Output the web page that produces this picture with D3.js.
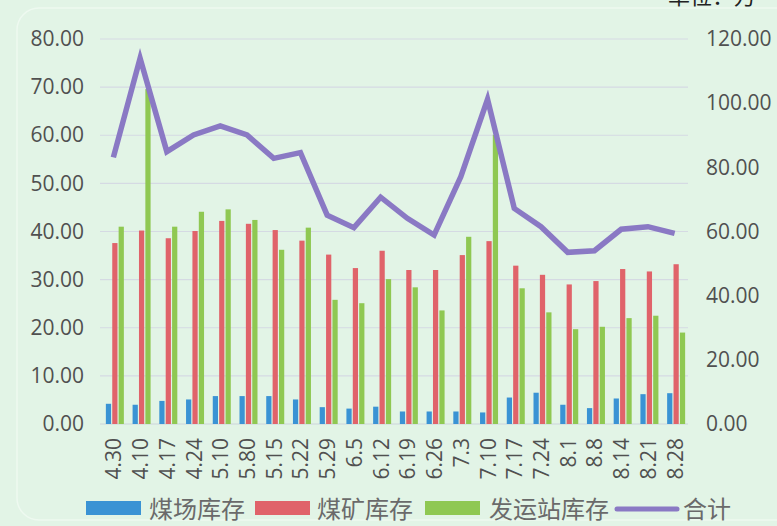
<!DOCTYPE html>
<html><head><meta charset="utf-8">
<script src="https://cdn.jsdelivr.net/npm/d3@7"></script>
<style>
html,body{margin:0;padding:0;background:#e2f4e6;}
svg{display:block;}
text{font-family:"Open Sans","Noto Sans CJK SC",sans-serif;}
</style></head>
<body>
<svg id="chart" width="777" height="526"></svg>
<script>
const categories = ["4.30","4.10","4.17","4.24","5.10","5.80","5.15","5.22","5.29","6.5","6.12","6.19","6.26","7.3","7.10","7.17","7.24","8.1","8.8","8.14","8.21","8.28"];
const coalYard   = [4.2,4.0,4.8,5.1,5.8,5.8,5.8,5.1,3.5,3.2,3.6,2.6,2.6,2.6,2.4,5.5,6.5,4.0,3.3,5.3,6.2,6.4];
const coalMine   = [37.6,40.2,38.6,40.1,42.2,41.6,40.3,38.1,35.2,32.4,36.0,32.0,32.0,35.1,38.0,32.9,31.0,29.0,29.7,32.2,31.7,33.2];
const station    = [41.0,69.6,41.0,44.1,44.6,42.4,36.2,40.8,25.8,25.1,30.1,28.4,23.6,38.9,60.1,28.2,23.2,19.7,20.2,22.0,22.5,19.0];
const total      = [83.1,114.0,84.9,90.1,92.9,90.1,82.8,84.6,65.1,61.2,70.7,64.1,58.9,77.1,101.2,67.2,61.5,53.5,54.0,60.7,61.5,59.4];
const seriesNames = ["煤场库存","煤矿库存","发运站库存","合计"];
const leftTicks  = [0,10,20,30,40,50,60,70,80];
const rightTicks = [0,20,40,60,80,100,120];
const unitLabel = "单位：万";

const colors = ["#3a93d4","#e0636a","#8fc852","#8a79c4"];

const svg = d3.select("#chart");
// rounded panel
svg.append("rect").attr("x",17).attr("y",8).attr("width",800).attr("height",512)
  .attr("rx",22).attr("fill","#e2f4e6").attr("stroke","#eef9f0").attr("stroke-width",1.5);

const L = 100, R = 688, T = 39, B = 424;
const x = d3.scaleBand().domain(categories).range([L,R]);
const yL = d3.scaleLinear().domain([0,80]).range([B,T]);
const yR = d3.scaleLinear().domain([0,120]).range([B,T]);
const inner = d3.scaleBand().domain([0,1,2]).range([0,18]).paddingInner(0.18);
const cx = c => x(c) + x.bandwidth()/2;

// gridlines
svg.append("g").selectAll("line").data(leftTicks).join("line")
  .attr("x1",L).attr("x2",R).attr("y1",d=>yL(d)).attr("y2",d=>yL(d))
  .attr("stroke",d=>d===0?"#cbd3da":"#d5dae3").attr("stroke-width",1.2);

// left axis labels
const axL = svg.append("g").attr("transform",`translate(${L-16},0)`)
  .call(d3.axisLeft(yL).tickValues(leftTicks).tickFormat(d3.format(".2f")).tickSize(0).tickPadding(0));
axL.select(".domain").remove();
axL.selectAll("text").attr("font-size",21).attr("fill","#505050").attr("font-family","Open Sans");

// right axis labels
const axR = svg.append("g").attr("transform",`translate(${R+18},0)`)
  .call(d3.axisRight(yR).tickValues(rightTicks).tickFormat(d3.format(".2f")).tickSize(0).tickPadding(0));
axR.select(".domain").remove();
axR.selectAll("text").attr("font-size",21).attr("fill","#505050").attr("font-family","Open Sans");

// bars
const barSeries = [coalYard, coalMine, station];
barSeries.forEach((vals,si)=>{
  svg.append("g").selectAll("rect").data(vals).join("rect")
    .attr("x",(d,i)=>cx(categories[i]) - 7.5 + inner(si))
    .attr("width",inner.bandwidth())
    .attr("y",d=>yL(d))
    .attr("height",d=>B - yL(d))
    .attr("fill",colors[si]);
});

// total line
const line = d3.line().x((d,i)=>cx(categories[i])).y(d=>yR(d));
svg.append("path").datum(total).attr("d",line).attr("fill","none")
  .attr("stroke",colors[3]).attr("stroke-width",5.5).attr("stroke-linejoin","miter").attr("stroke-linecap","butt");

// x labels
svg.append("g").selectAll("text").data(categories).join("text")
  .attr("transform",d=>`translate(${cx(d)},438) rotate(-90)`)
  .attr("text-anchor","end").attr("dominant-baseline","central")
  .attr("font-size",21).attr("fill","#505050").text(d=>d);

// unit label (cut at top edge as in the reference)
svg.append("text").attr("x",668).attr("y",4).attr("font-size",22).attr("fill","#222")
  .attr("font-family","Noto Sans CJK SC").text(unitLabel);

// legend
const lg = svg.append("g");
const legendItems = [
  {sx:86, tx:149, type:"rect"},
  {sx:255, tx:317, type:"rect"},
  {sx:425, tx:489, type:"rect"},
  {sx:617, tx:683, type:"line"}
];
legendItems.forEach((it,i)=>{
  if(it.type==="rect"){
    lg.append("rect").attr("x",it.sx).attr("y",501).attr("width",55).attr("height",14).attr("fill",colors[i]);
  } else {
    lg.append("line").attr("x1",it.sx).attr("x2",it.sx+60).attr("y1",509).attr("y2",509)
      .attr("stroke",colors[i]).attr("stroke-width",5).attr("stroke-linecap","round");
  }
  lg.append("text").attr("x",it.tx).attr("y",508).attr("dominant-baseline","central")
    .attr("font-size",24).attr("fill","#6a6a6a").attr("font-family","Noto Sans CJK SC").text(seriesNames[i]);
});
</script>
</body></html>
